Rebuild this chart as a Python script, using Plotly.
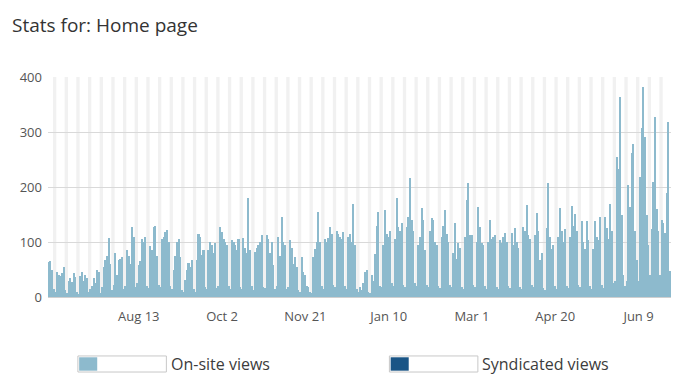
import datetime as dt
import plotly.graph_objects as go

start_date = "2012-06-20"

on_site_views = [
    63, 65, 50, 14, 9,
    45, 40, 38, 43, 55, 12, 8,
    30, 34, 28, 43, 36, 10, 6,
    38, 45, 30, 40, 35, 9, 14,
    20, 34, 25, 50, 45, 8, 18,
    55, 68, 74, 107, 60, 12, 22,
    80, 40, 68, 70, 72, 15, 20,
    86, 75, 60, 127, 109, 18, 25,
    59, 65, 105, 100, 110, 20, 16,
    92, 85, 127, 130, 75, 22, 18,
    105, 110, 118, 122, 100, 20, 15,
    50, 74, 100, 105, 72, 12, 10,
    31, 50, 62, 55, 68, 15, 10,
    68, 114, 109, 76, 86, 18, 14,
    86, 100, 95, 80, 98, 16, 20,
    127, 118, 105, 100, 95, 20, 15,
    104, 100, 95, 85, 105, 18, 14,
    108, 90, 80, 180, 85, 20, 12,
    82, 90, 95, 100, 112, 18, 16,
    112, 106, 80, 100, 58, 15, 20,
    110, 75, 145, 100, 95, 14, 18,
    104, 90, 60, 72, 55, 12, 10,
    72, 45, 40, 20, 18, 10, 8,
    72, 88, 100, 155, 100, 20, 14,
    106, 100, 108, 127, 115, 22, 18,
    120, 115, 110, 105, 118, 20, 15,
    110, 115, 100, 170, 95, 14, 10,
    19, 12, 25, 45, 50, 10, 8,
    40, 30, 78, 130, 155, 20, 18,
    95, 158, 115, 110, 120, 25, 20,
    105, 180, 127, 120, 135, 22, 18,
    127, 145, 216, 140, 120, 25, 20,
    95, 110, 161, 140, 85, 22, 18,
    120, 143, 140, 100, 95, 20, 16,
    110, 130, 158, 115, 100, 22, 18,
    80, 135, 70, 98, 90, 18, 14,
    110, 176, 207, 113, 112, 22, 18,
    100, 164, 128, 98, 95, 20, 15,
    100, 140, 105, 110, 113, 18, 14,
    104, 98, 110, 116, 100, 20, 16,
    116, 95, 125, 100, 90, 18, 14,
    127, 120, 167, 113, 105, 22, 18,
    113, 153, 120, 67, 80, 16, 12,
    125, 207, 110, 88, 95, 20, 14,
    110, 161, 120, 100, 123, 20, 16,
    110, 166, 130, 151, 120, 22, 18,
    138, 100, 88, 138, 104, 20, 14,
    88, 138, 110, 104, 146, 22, 16,
    146, 125, 105, 170, 120, 25, 30,
    255, 233, 364, 150, 40, 20, 30,
    204, 164, 261, 279, 120, 67, 30,
    219, 307, 382, 291, 150, 95, 40,
    123, 209, 328, 160, 120, 40, 140,
    134, 116, 189, 319, 48,
]
syndicated_views = [0] * len(on_site_views)

tick_dates = ["2012-08-13", "2012-10-02", "2012-11-21", "2013-01-10",
              "2013-03-01", "2013-04-20", "2013-06-09"]
tick_labels = ["Aug 13", "Oct 2", "Nov 21", "Jan 10", "Mar 1", "Apr 20", "Jun 9"]

series_names = ["On-site views", "Syndicated views"]
series_colors = ["#8dbacd", "#1a5586"]

d0 = dt.date.fromisoformat(start_date)
dates = [d0 + dt.timedelta(days=i) for i in range(len(on_site_views))]

fig = go.Figure()
fig.add_trace(go.Bar(x=dates, y=on_site_views, name=series_names[0],
                     marker=dict(color=series_colors[0], line=dict(width=0)),
                     showlegend=False))
fig.add_trace(go.Bar(x=dates, y=syndicated_views, name=series_names[1],
                     marker=dict(color=series_colors[1], line=dict(width=0)),
                     showlegend=False))

# weekend shading
shapes = []
for d in dates:
    if d.weekday() == 5:
        x0 = dt.datetime.combine(d, dt.time()) - dt.timedelta(hours=12)
        x1 = x0 + dt.timedelta(days=2)
        shapes.append(dict(type="rect", xref="x", yref="paper", x0=x0, x1=x1,
                           y0=0, y1=1, fillcolor="#f1f1f1", line=dict(width=0),
                           layer="below"))

# custom legend
leg_y0, leg_y1 = -0.268, -0.341
leg_items = [(0.048, 0.190), (0.548, 0.690)]
annotations = []
for (lx0, lx1), name, color in zip(leg_items, series_names, series_colors):
    shapes.append(dict(type="rect", xref="paper", yref="paper", x0=lx0, x1=lx1,
                       y0=leg_y1, y1=leg_y0, fillcolor="white",
                       line=dict(color="#c8c8c8", width=1), layer="above"))
    shapes.append(dict(type="rect", xref="paper", yref="paper", x0=lx0 + 0.002,
                       x1=lx0 + 0.031, y0=leg_y1 + 0.006, y1=leg_y0 - 0.006,
                       fillcolor=color, line=dict(width=0), layer="above"))
    annotations.append(dict(xref="paper", yref="paper", x=lx1 + 0.004,
                            y=(leg_y0 + leg_y1) / 2, text=name, showarrow=False,
                            xanchor="left", yanchor="middle",
                            font=dict(size=16, color="#3c3c3c",
                                      family="Open Sans")))

x_start = dt.datetime.combine(dates[0], dt.time()) - dt.timedelta(hours=12)
x_end = dt.datetime.combine(dates[-1], dt.time()) + dt.timedelta(hours=12)

# the page body has an 8px margin, so the figure is drawn 8px smaller
W, H = 686, 374
fig.update_layout(
    width=W, height=H,
    margin=dict(l=37, r=23, t=69, b=85),
    paper_bgcolor="white", plot_bgcolor="white",
    barmode="stack", bargap=0.08,
    font=dict(family="Open Sans", color="#555555", size=13),
    title=dict(text="Stats for: Home page", x=4 / W, xref="container",
               xanchor="left", y=1 - 17 / H, yref="container",
               yanchor="middle",
               font=dict(size=19, color="#333333", family="Open Sans")),
    shapes=shapes, annotations=annotations,
    xaxis=dict(type="date", range=[x_start, x_end], tickvals=tick_dates,
               ticktext=tick_labels, showgrid=False, ticks="",
               showline=False, zeroline=False, ticklabelstandoff=10,
               tickfont=dict(size=13, color="#555555")),
    yaxis=dict(range=[0, 400], tickvals=[0, 100, 200, 300, 400],
               showgrid=True, gridcolor="#d9d9d9", gridwidth=1,
               zeroline=True, zerolinecolor="#cfcfcf", zerolinewidth=2,
               ticks="", ticklabelstandoff=5,
               tickfont=dict(size=13, color="#555555")),
)

fig.write_html("out.html")
